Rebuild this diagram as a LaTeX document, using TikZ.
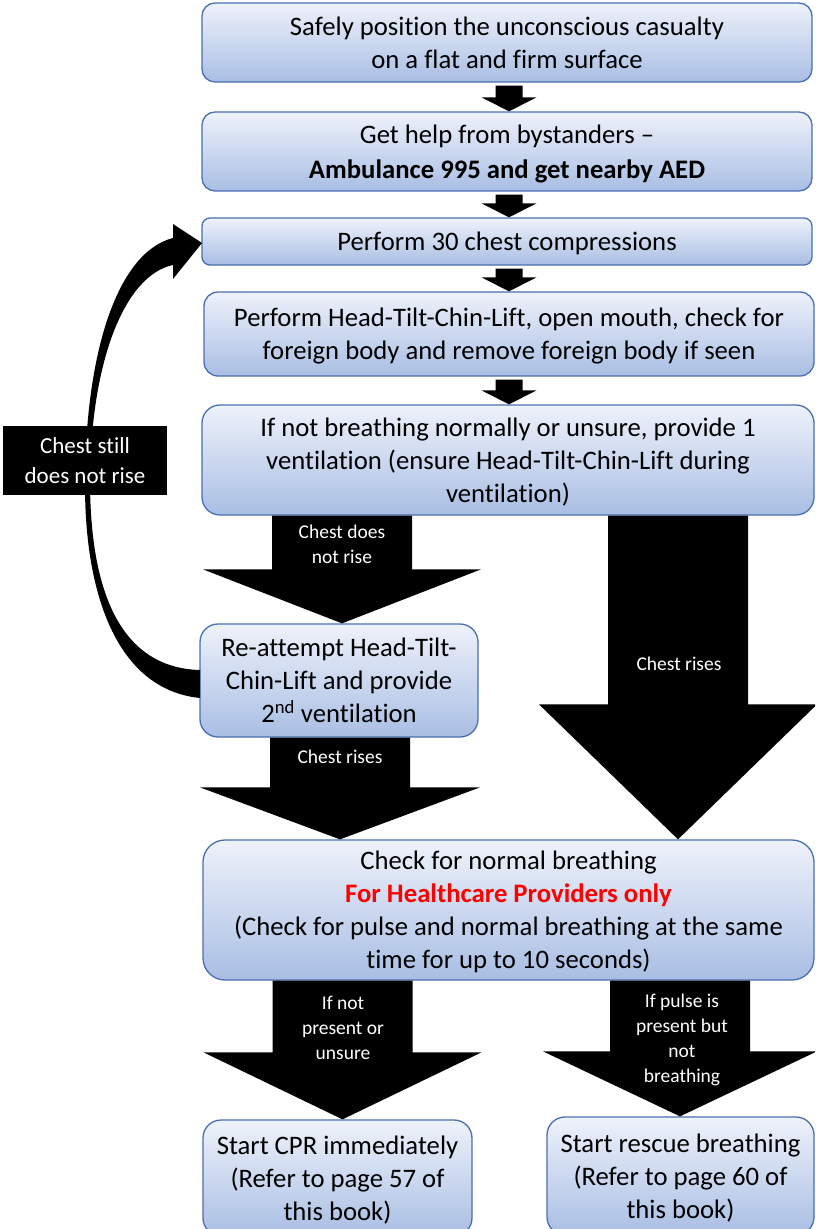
\documentclass[tikz,border=0pt]{standalone}
\usepackage{fontspec}
\setmainfont[Ligatures=NoCommon]{Carlito}
\usetikzlibrary{calc}
\definecolor{boxtop}{HTML}{EEF2FA}
\definecolor{boxbot}{HTML}{A9BEE4}
\definecolor{boxline}{HTML}{4A6FB0}
\definecolor{alertred}{HTML}{FF0000}
% #1 from node, #2 to node, #3 x, #4 shaft half width, #5 head half width, #6 head length, #7 top gap
\newcommand\blockarr[7]{%
  \fill let \p1=(#1.south), \p2=(#2.north) in
    (#3pt-#4pt,\y1-#7pt) -- (#3pt+#4pt,\y1-#7pt) -- (#3pt+#4pt,\y2+#6pt) -- (#3pt+#5pt,\y2+#6pt)
    -- (#3pt,\y2) -- (#3pt-#5pt,\y2+#6pt) -- (#3pt-#4pt,\y2+#6pt) -- cycle;}
\begin{document}
\begin{tikzpicture}[x=1pt,y=-1pt,
  box/.style={draw=boxline, line width=1.3pt, top color=boxtop, bottom color=boxbot,
    align=center, inner sep=0pt, text=black, text depth=0pt, font=\fontsize{26.7}{33}\selectfont},
  lbl/.style={text=white, align=center, inner sep=0pt, font=\fontsize{19.5}{25}\selectfont},
  blk/.style={fill=black, text=white, align=center, inner sep=0pt, font=\fontsize{23}{30}\selectfont}]
\clip (0,0) rectangle (815,1229);
\fill[white] (0,0) rectangle (815,1229);

\node[box, minimum width=610, minimum height=79, rounded corners=13] (b1) at (507,42.5)
  {Safely position the unconscious casualty\\on a flat and firm surface};
\node[box, minimum width=610, minimum height=79, rounded corners=13] (b2) at (507,151.5)
  {Get help from bystanders --\\[1.5pt]\textbf{Ambulance 995 and get nearby AED}};
\node[box, minimum width=610, minimum height=47, rounded corners=8] (b3) at (507,241.5)
  {Perform 30 chest compressions};
\node[box, minimum width=610, minimum height=84, rounded corners=14] (b4) at (509,334)
  {Perform Head-Tilt-Chin-Lift, open mouth, check for\\foreign body and remove foreign body if seen};
\node[box, minimum width=612, minimum height=110, rounded corners=18] (b5) at (508,460)
  {If not breathing normally or unsure, provide 1\\ventilation (ensure Head-Tilt-Chin-Lift during\\ventilation)};
\node[box, minimum width=278, minimum height=113, rounded corners=18] (b6) at (339,680.5)
  {Re-attempt Head-Tilt-\\Chin-Lift and provide\\2\textsuperscript{nd} ventilation};
\node[box, minimum width=611, minimum height=140, rounded corners=22] (b7) at (508.5,910)
  {Check for normal breathing\\\textcolor{alertred}{\textbf{For Healthcare Providers only}}\\(Check for pulse and normal breathing at the same\\time for up to 10 seconds)};
\node[box, minimum width=269, minimum height=116, rounded corners=18] (b8) at (337.5,1178)
  {Start CPR immediately\\(Refer to page 57 of\\this book)};
\node[box, minimum width=267, minimum height=118, rounded corners=18] (b9) at (680.5,1176)
  {Start rescue breathing\\(Refer to page 60 of\\this book)};

% small arrows
\blockarr{b1}{b2}{509}{13.5}{27.5}{14}{3}
\blockarr{b2}{b3}{509}{13.5}{27.5}{14}{3}
\blockarr{b3}{b4}{509}{13.5}{27.5}{14}{3}
\blockarr{b4}{b5}{509}{13.5}{27.5}{14}{3}

% big arrows
\blockarr{b5}{b6}{342}{70}{139}{54}{0}
\blockarr{b5}{b7}{678}{70}{139}{135}{0}
\blockarr{b6}{b7}{340}{70}{140}{52}{0}
\blockarr{b7}{b8}{342.5}{70}{139}{67}{0}
\blockarr{b7}{b9}{680}{70}{137}{65}{0}

\node[lbl] (l1) at (342,544.5) {Chest does\\not rise};
\node[lbl] (l2) at (679,664) {Chest rises};
\node[lbl] (l3) at (340,757) {Chest rises};
\node[lbl] (l4) at (343,1028) {If not\\present or\\unsure};
\node[lbl] (l5) at (682,1039.5) {If pulse is\\present but\\not\\breathing};

% curved arrow back to compressions
\fill (200,698) .. controls (120,690) and (84,600) .. (85,480)
  .. controls (86,350) and (118,252) .. (173,238) -- (173,224) -- (202,243) -- (173,279) -- (173,265)
  .. controls (125,275) and (91,360) .. (90,480)
  .. controls (90,600) and (125,668) .. (200,670) -- cycle;

\node[blk, minimum width=164, minimum height=69] (l6) at (85,460.5) {Chest still\\does not rise};
\end{tikzpicture}
\end{document}
